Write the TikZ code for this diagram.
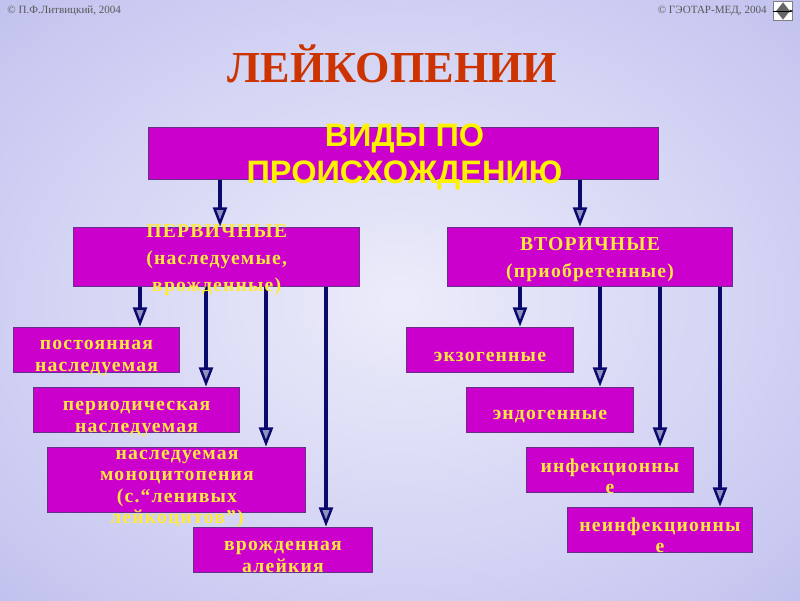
\documentclass[tikz,border=0pt]{standalone}
\usepackage{fontspec}
\setmainfont{Liberation Serif}
\newfontfamily\vidyfont{Liberation Sans}
\newfontfamily\boxfont[LetterSpace=6]{Liberation Serif}
\usetikzlibrary{arrows.meta,shapes.geometric}
\definecolor{boxfill}{HTML}{CC00CC}
\definecolor{boxline}{HTML}{64308C}
\definecolor{boxtext}{HTML}{FFE93C}
\definecolor{navy}{HTML}{0A0A6E}
\definecolor{titlered}{HTML}{CC3300}
\colorlet{lightvio}{white!55!navy}
\pgfdeclareradialshading{slidebg}{\pgfpoint{0bp}{0bp}}{%
  rgb(0bp)=(0.925,0.925,0.98);rgb(28bp)=(0.80,0.80,0.95);rgb(54bp)=(0.655,0.655,0.90);rgb(100bp)=(0.655,0.655,0.90)}
\tikzset{
  box/.style={draw=boxline,line width=0.6pt,fill=boxfill,inner sep=0pt},
  boxlabel/.style={text=boxtext,align=center,inner sep=0pt,
    font=\boxfont\fontsize{11.2pt}{12.1pt}\selectfont\bfseries},
  headlabel/.style={boxlabel,font=\boxfont\fontsize{11.2pt}{15.4pt}\selectfont\bfseries},
  flow/.style={draw=navy,line width=1.9pt,
    -{Triangle[open,fill=lightvio,length=11pt,width=8pt,line width=1.4pt]}},
  small/.style={text=black!65,inner sep=0pt,font=\fontsize{6.3pt}{7pt}\selectfont},
}
\begin{document}
\begin{tikzpicture}[x=0.02cm,y=-0.02cm]
\useasboundingbox (0,0) rectangle (800,600);
\shade[shading=slidebg] (0,0) rectangle (800,600);

\node[small,anchor=west] (lit) at (7,11) {© П.Ф.Литвицкий, 2004};
\node[small,anchor=east] (geo) at (767,11) {© ГЭОТАР-МЕД, 2004};
\node[draw=gray,fill=white,minimum size=11pt,inner sep=0pt] (icon) at (783,11) {};
\node[diamond,fill=black!60,minimum width=8pt,minimum height=10pt,inner sep=0pt] (iconmark) at (icon) {};
\draw[black,line width=0.3pt,-{Stealth[length=2pt]}] (icon.west) -- (icon.east);

\node[text=titlered,inner sep=0pt,font=\fontsize{25.2pt}{28pt}\selectfont\bfseries] (title) at (392.5,64) {ЛЕЙКОПЕНИИ};

% boxes, given by their centres
\node[box,minimum width=290pt,minimum height=30pt] (vidy) at (403.5,153.5) {};
\node[box,minimum width=162.7pt,minimum height=34pt] (perv) at (216.5,257) {};
\node[box,minimum width=162.7pt,minimum height=34pt] (vtor) at (590,257) {};

\node[box,minimum width=94.7pt,minimum height=26pt] (post) at (96.5,350) {};
\node[box,minimum width=117.3pt,minimum height=26pt] (peri) at (136.5,410) {};
\node[box,minimum width=147pt,minimum height=37.4pt] (mono) at (176.5,480) {};
\node[box,minimum width=102pt,minimum height=26pt] (vroz) at (283,550) {};

\node[box,minimum width=94.7pt,minimum height=26pt] (ekzo) at (490,350) {};
\node[box,minimum width=94.7pt,minimum height=26pt] (endo) at (550,410) {};
\node[box,minimum width=94.7pt,minimum height=26pt] (infe) at (610,470) {};
\node[box,minimum width=105.5pt,minimum height=26pt] (nein) at (660,530) {};

% arrows
\draw[flow] (vidy.south -| 220,0) -- (perv.north -| 220,0);
\draw[flow] (vidy.south -| 580,0) -- (vtor.north -| 580,0);

\draw[flow] (perv.south -| 140,0) -- (post.north -| 140,0);
\draw[flow] (perv.south -| 206,0) -- (peri.north -| 206,0);
\draw[flow] (perv.south -| 266,0) -- (mono.north -| 266,0);
\draw[flow] (perv.south -| 326,0) -- (vroz.north -| 326,0);

\draw[flow] (vtor.south -| 520,0) -- (ekzo.north -| 520,0);
\draw[flow] (vtor.south -| 600,0) -- (endo.north -| 600,0);
\draw[flow] (vtor.south -| 660,0) -- (infe.north -| 660,0);
\draw[flow] (vtor.south -| 720,0) -- (nein.north -| 720,0);

% texts, they run over the box edges
\node[text=yellow,align=center,inner sep=0pt,
  font=\vidyfont\fontsize{18.5pt}{21pt}\selectfont\bfseries] (vidytext) at (404.5,156.5) {ВИДЫ  ПО\\ПРОИСХОЖДЕНИЮ};
\node[headlabel] (pervtext) at (216.7,260) {ПЕРВИЧНЫЕ\\(наследуемые,\\врожденные)};
\node[headlabel] (vtortext) at (590,260) {ВТОРИЧНЫЕ\\(приобретенные)};
\node[boxlabel] (posttext) at (96.5,358) {постоянная\\наследуемая};
\node[boxlabel] (peritext) at (136.5,419) {периодическая\\наследуемая};
\node[boxlabel] (monotext) at (177,489) {наследуемая\\моноцитопения\\(с.“ленивых\\лейкоцитов”)};
\node[boxlabel] (vroztext) at (283,557) {врожденная\\алейкия};
\node[boxlabel] (ekzotext) at (490,357) {экзогенные};
\node[boxlabel] (endotext) at (550,417) {эндогенные};
\node[boxlabel] (infetext) at (610,476) {инфекционны\\е};
\node[boxlabel] (neintext) at (660,535.5) {неинфекционны\\е};
\end{tikzpicture}
\end{document}
